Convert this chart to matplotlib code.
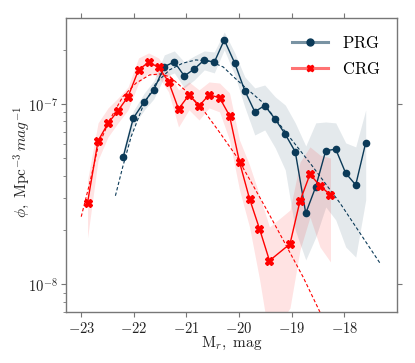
import numpy as np
import matplotlib
matplotlib.use("Agg")
import matplotlib.pyplot as plt
from matplotlib.lines import Line2D
from matplotlib.ticker import FixedLocator, FixedFormatter, LogLocator, NullFormatter

plt.rcParams['mathtext.fontset'] = 'cm'
plt.rcParams['font.family'] = ['DejaVu Serif']

# ---- data (log10 phi) ----
prg_mag = [-22.20, -22.01, -21.80, -21.62, -21.42, -21.23, -21.04, -20.85, -20.66, -20.47,
           -20.28, -20.08, -19.89, -19.70, -19.51, -19.31, -19.12, -18.93, -18.73, -18.54,
           -18.35, -18.16, -17.97, -17.78, -17.59]
prg_logphi = [-7.292, -7.079, -6.987, -6.922, -6.793, -6.767, -6.845, -6.806, -6.756, -6.769,
              -6.645, -6.774, -6.926, -7.043, -7.009, -7.085, -7.168, -7.265, -7.606, -7.459,
              -7.259, -7.251, -7.384, -7.449, -7.215]
prg_log_hi = [-7.253, -7.039, -6.939, -6.872, -6.728, -6.706, -6.767, -6.734, -6.706, -6.712,
              -6.601, -6.717, -6.850, -6.911, -6.895, -6.961, -7.006, -7.105, -7.233, -7.105,
              -7.100, -7.105, -7.216, -7.238, -7.033]
prg_log_lo = [-7.331, -7.122, -7.033, -6.972, -6.850, -6.828, -6.911, -6.867, -6.811, -6.828,
              -6.700, -6.839, -7.017, -7.172, -7.144, -7.244, -7.366, -7.699, -7.865, -7.738,
              -7.571, -7.643, -7.793, -7.849, -7.532]

crg_mag = [-22.88, -22.68, -22.49, -22.30, -22.11, -21.91, -21.72, -21.53, -21.34, -21.15,
           -20.95, -20.76, -20.57, -20.37, -20.18, -19.99, -19.80, -19.61, -19.42, -19.03,
           -18.84, -18.65, -18.46, -18.26]
crg_logphi = [-7.547, -7.205, -7.107, -7.037, -6.960, -6.811, -6.769, -6.796, -6.876, -7.028,
              -6.950, -7.011, -6.950, -6.965, -7.065, -7.322, -7.525, -7.692, -7.869, -7.776,
              -7.538, -7.390, -7.453, -7.505]
crg_log_hi = [-7.422, -7.105, -7.022, -6.967, -6.906, -6.745, -6.717, -6.745, -6.823, -6.922,
              -6.878, -6.922, -6.878, -6.884, -6.939, -7.200, -7.338, -7.505, -7.682, -7.588,
              -7.322, -7.238, -7.283, -7.300]
crg_log_lo = [-7.743, -7.311, -7.183, -7.105, -7.033, -6.884, -6.828, -6.850, -6.933, -7.128,
              -7.033, -7.089, -7.022, -7.044, -7.200, -7.477, -7.682, -7.971, -8.309, -8.131,
              -7.810, -7.627, -7.793, -7.876]

# fitted curves
prg_fit_mag = [-22.35, -22.21, -22.05, -21.83, -21.58, -21.32, -21.07, -20.82, -20.55, -20.30,
               -20.08, -19.89, -19.54, -19.13, -18.65, -18.08, -17.32]
prg_fit_logphi = [-7.509, -7.348, -7.181, -7.015, -6.885, -6.811, -6.774, -6.756, -6.764, -6.795,
                  -6.856, -6.906, -6.994, -7.150, -7.327, -7.549, -7.882]
crg_fit_mag = [-23.00, -22.84, -22.68, -22.46, -22.21, -21.96, -21.70, -21.50, -21.31, -20.99,
               -20.68, -20.36, -20.04, -19.79, -19.47, -19.16, -18.78, -18.46]
crg_fit_logphi = [-7.625, -7.440, -7.237, -7.089, -6.960, -6.885, -6.839, -6.834, -6.850, -6.933,
                  -7.033, -7.161, -7.294, -7.422, -7.588, -7.754, -7.960, -8.154]

xticks = [-23, -22, -21, -20, -19, -18]
xticklabels = [r'$-23$', r'$-22$', r'$-21$', r'$-20$', r'$-19$', r'$-18$']
yticks = [1e-8, 1e-7]
yticklabels = [r'$10^{-8}$', r'$10^{-7}$']

navy = '#0b3a58'
red = '#ff0000'
gray = '#777777'

fig = plt.figure(figsize=(4.15, 3.63), dpi=100)
ax = fig.add_axes([0.159, 0.1397, 0.797, 0.81])

p = lambda a: 10 ** np.asarray(a)

ax.fill_between(prg_mag, p(prg_log_lo), p(prg_log_hi), color=navy, alpha=0.11, lw=0)
ax.fill_between(crg_mag, p(crg_log_lo), p(crg_log_hi), color=red, alpha=0.11, lw=0)

ax.plot(prg_fit_mag, p(prg_fit_logphi), ls=(0, (3, 2)), color=navy, lw=0.8)
ax.plot(crg_fit_mag, p(crg_fit_logphi), ls=(0, (3, 2)), color=red, lw=0.8)

ax.plot(prg_mag, p(prg_logphi), '-o', color=navy, lw=1.0, ms=4.5)
ax.plot(crg_mag, p(crg_logphi), '-X', color=red, lw=1.0, ms=5.5)

ax.set_yscale('log')
ax.set_xlim(-23.29, -17.0)
ax.set_ylim(10 ** -8.155, 10 ** -6.525)

ax.xaxis.set_major_locator(FixedLocator(xticks))
ax.xaxis.set_major_formatter(FixedFormatter(xticklabels))
ax.yaxis.set_major_locator(FixedLocator(yticks))
ax.yaxis.set_major_formatter(FixedFormatter(yticklabels))
ax.yaxis.set_minor_locator(LogLocator(base=10, subs=np.arange(2, 10)))
ax.yaxis.set_minor_formatter(NullFormatter())

for s in ax.spines.values():
    s.set_color(gray)
    s.set_linewidth(1.0)
ax.tick_params(axis='both', which='major', direction='out', length=3.5, width=0.8,
               color=gray, labelsize=10.5, labelcolor='#222222', pad=2.5)
ax.tick_params(axis='x', top=True, labeltop=False)
ax.tick_params(axis='y', which='major', right=True, labelright=False)
ax.tick_params(axis='y', which='minor', direction='out', length=2, width=0.6, color=gray,
               left=True, right=False)

ax.set_xlabel(r'$\mathrm{M}_r\mathrm{,\ mag}$', fontsize=11, color='#222222')
ax.set_ylabel(r'$\phi\mathrm{,\ Mpc}^{-3}\,mag^{-1}$', fontsize=11, color='#222222')
ax.xaxis.set_label_coords(0.5, -0.076, transform=ax.transAxes)
ax.yaxis.set_label_coords(-0.133, 0.51, transform=ax.transAxes)
ax.xaxis.label.set_va('top')
ax.yaxis.label.set_va('center')

h1 = (Line2D([], [], color=navy, alpha=0.55, lw=2.2),
      Line2D([], [], color=navy, marker='o', ls='none', ms=5))
h2 = (Line2D([], [], color=red, alpha=0.55, lw=2.2),
      Line2D([], [], color=red, marker='X', ls='none', ms=5))
ax.legend([h1, h2], [r'$\mathrm{PRG}$', r'$\mathrm{CRG}$'], loc='upper right',
          frameon=False, fontsize=12, handlelength=2.2, labelspacing=0.55,
          borderaxespad=0.6)

fig.savefig('out.png', dpi=100)
